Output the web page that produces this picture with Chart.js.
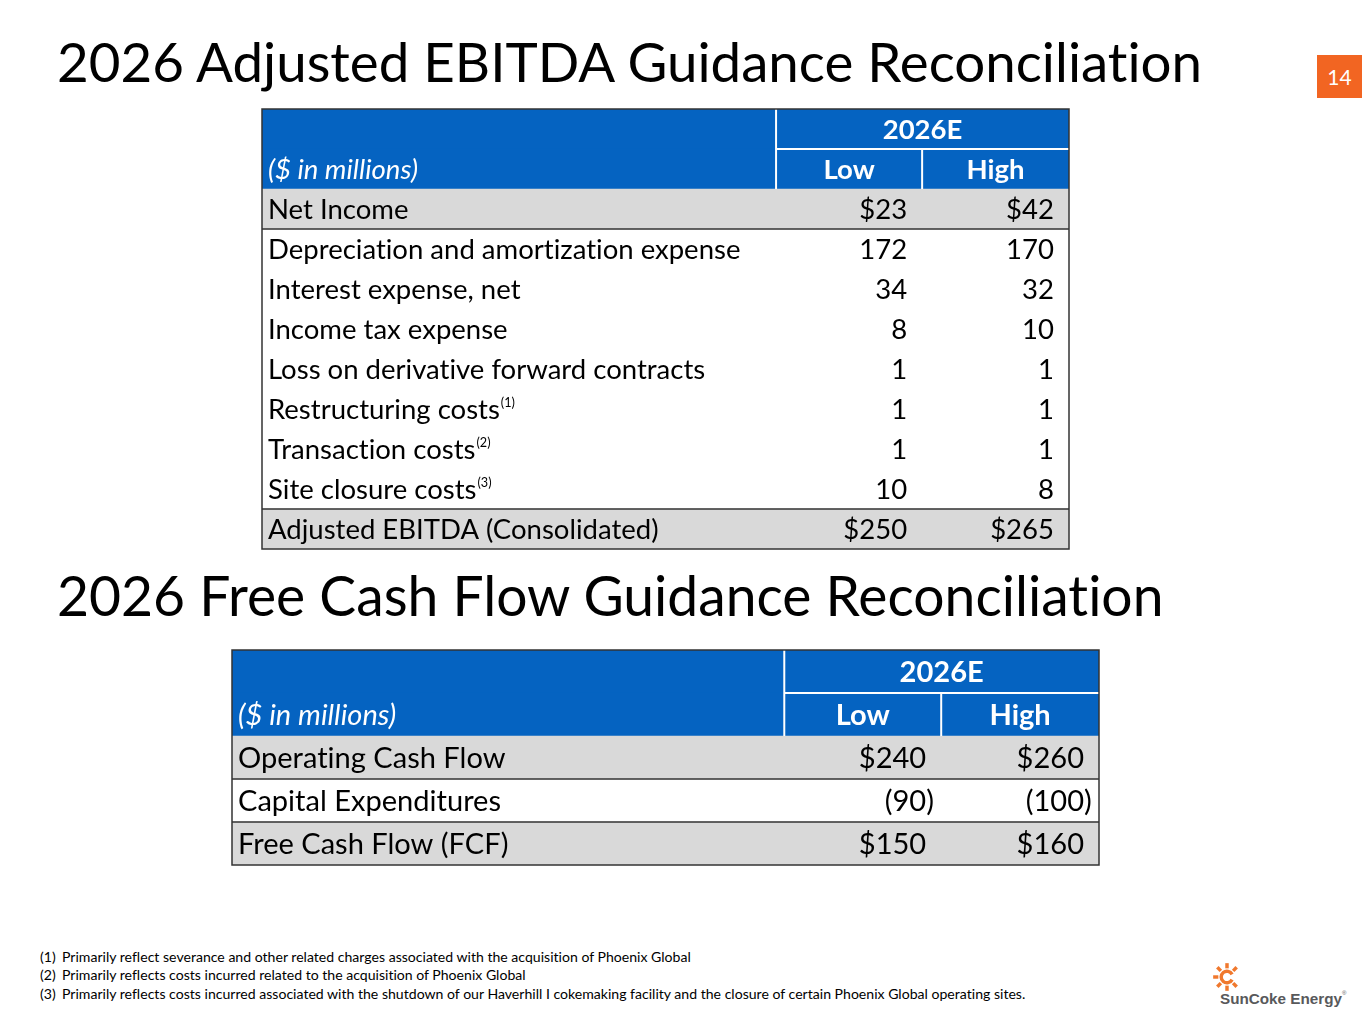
<!DOCTYPE html>
<html>
<head>
<meta charset="utf-8">
<script src="https://cdn.jsdelivr.net/npm/chart.js@4.4.1/dist/chart.umd.min.js"></script>
<style>
html, body { margin: 0; padding: 0; background: #fff; }
body { width: 1365px; height: 1024px; position: relative; overflow: hidden; font-family: Lato, "Open Sans", sans-serif;
       font-variant-ligatures: none; }
.title { position: absolute; left: 57px; white-space: nowrap; color: #000; line-height: 1; }
canvas.tbl { position: absolute; }
.page { position: absolute; left: 1317px; top: 55px; width: 45px; height: 43px; background: #f26522; color: #fff;
        font-size: 21px; display: flex; align-items: center; justify-content: center; }
.note { position: absolute; left: 40px; white-space: nowrap; color: #000; line-height: 1; }
.note span { position: absolute; left: 22px; }
.logo { position: absolute; left: 1212px; top: 962px; width: 150px; height: 55px; }
.logo .word { position: absolute; left: 8px; top: 29px; font-family: "Liberation Sans", Arial, sans-serif; font-weight: bold;
              color: #58595b; white-space: nowrap; line-height: 1; }
.logo sup { font-size: 6px; vertical-align: top; position: relative; top: -1px; font-weight: normal; }
</style>
</head>
<body>
<div class="title" id="t1">2026 Adjusted EBITDA Guidance Reconciliation</div>
<div class="title" id="t2">2026 Free Cash Flow Guidance Reconciliation</div>
<div class="page">14</div>

<canvas class="tbl" id="ebitda" width="811" height="444" style="left:260px;top:107px"></canvas>
<canvas class="tbl" id="fcf" width="871" height="219" style="left:230px;top:648px"></canvas>

<div id="notes"></div>

<div class="logo">
  <svg width="30" height="30" viewBox="-13 -13 26 26" style="position:absolute;left:0;top:0">
    <g stroke="#f0782d" stroke-width="3" stroke-linecap="butt">
      <line x1="0" y1="-12" x2="0" y2="-7.5"/>
      <line x1="0" y1="7.5" x2="0" y2="12"/>
      <line x1="-12" y1="0" x2="-7.5" y2="0"/>
      <line x1="8.4" y1="-8.4" x2="5.3" y2="-5.3"/>
      <line x1="-8.4" y1="-8.4" x2="-5.3" y2="-5.3"/>
      <line x1="-8.4" y1="8.4" x2="-5.3" y2="5.3"/>
      <line x1="8.4" y1="8.4" x2="5.3" y2="5.3"/>
    </g>
    <path d="M 4.4 -2.3 A 5 5 0 1 0 4.4 2.3" fill="none" stroke="#f0782d" stroke-width="3"/>
  </svg>
  <div class="word" id="logoword">SunCoke Energy<sup>&reg;</sup></div>
</div>

<script>
// ---- data ----
const ebitdaRows = ['Net Income', 'Depreciation and amortization expense', 'Interest expense, net',
  'Income tax expense', 'Loss on derivative forward contracts', 'Restructuring costs',
  'Transaction costs', 'Site closure costs', 'Adjusted EBITDA (Consolidated)'];
const ebitdaNotes = ['', '', '', '', '', '(1)', '(2)', '(3)', ''];
const ebitdaLow = [23, 172, 34, 8, 1, 1, 1, 10, 250];
const ebitdaHigh = [42, 170, 32, 10, 1, 1, 1, 8, 265];

const fcfRows = ['Operating Cash Flow', 'Capital Expenditures', 'Free Cash Flow (FCF)'];
const fcfNotes = ['', '', ''];
const fcfLow = [240, -90, 150];
const fcfHigh = [260, -100, 160];

const periodLabel = '2026E';
const caseLabels = ['Low', 'High'];
const unitLabel = '($ in millions)';

const footnoteMarks = ['(1)', '(2)', '(3)'];
const footnotes = [
  'Primarily reflect severance and other related charges associated with the acquisition of Phoenix Global',
  'Primarily reflects costs incurred related to the acquisition of Phoenix Global',
  'Primarily reflects costs incurred associated with the shutdown of our Haverhill I cokemaking facility and the closure of certain Phoenix Global operating sites.'
];

// ---- look ----
const FONT = 'Lato, "Open Sans", sans-serif';
const BLUE = '#0563c1';
const GREY = '#d9d9d9';
const LINE = '#333333';
const colEdges = [0.637, 0.818]; // label | low | high, as share of table width

const mctx = document.createElement('canvas').getContext('2d');
function fitSize(text, width, style, family) {
  mctx.font = (style || '') + ' 100px ' + (family || FONT);
  return 100 * width / mctx.measureText(text).width;
}

function placeTitle(id, width, baseline) {
  const el = document.getElementById(id);
  const s = fitSize(el.textContent, width);
  el.style.fontSize = s + 'px';
  el.style.top = (baseline - 0.887 * s) + 'px';
}
placeTitle('t1', 1150, 83);
placeTitle('t2', 1109, 617);

// footnotes
const noteSize = fitSize(footnotes[2], 966);
const notesBox = document.getElementById('notes');
footnotes.forEach((txt, i) => {
  const d = document.createElement('div');
  d.className = 'note';
  d.style.fontSize = noteSize + 'px';
  d.style.top = (962 + i * 18.5 - 0.887 * noteSize) + 'px';
  d.textContent = footnoteMarks[i];
  const sp = document.createElement('span');
  sp.textContent = txt;
  d.appendChild(sp);
  notesBox.appendChild(d);
});
document.getElementById('logoword').style.fontSize =
  fitSize('SunCoke Energy', 122, 'bold', '"Liberation Sans", Arial') + 'px';

function fmt(v, dollar) {
  if (v < 0) return '(' + Math.abs(v);
  return (dollar ? '$' : '') + v;
}

const tablePlugin = {
  id: 'tableText',
  afterDatasetsDraw(chart, args, o) {
    const { ctx, scales: { x, y } } = chart;
    const rowH = Math.abs(y.getPixelForValue(1) - y.getPixelForValue(0));
    const edge = i => y.getPixelForValue(i) - rowH / 2;
    const n = o.rows.length + 2;
    const xL = x.getPixelForValue(0), xA = x.getPixelForValue(colEdges[0]);
    const xB = x.getPixelForValue(colEdges[1]), xR = x.getPixelForValue(1);
    const line = (x1, y1, x2, y2) => { ctx.beginPath(); ctx.moveTo(x1, y1); ctx.lineTo(x2, y2); ctx.stroke(); };

    ctx.save();
    // header rules
    ctx.strokeStyle = '#fff';
    ctx.lineWidth = 2;
    line(xA, edge(0), xA, edge(2));
    line(xA, edge(1), xR, edge(1));
    line(xB, edge(1), xB, edge(2));
    // body separators where shading changes
    ctx.strokeStyle = LINE;
    ctx.lineWidth = 1.5;
    for (let i = 1; i < o.rows.length; i++) {
      if (o.shaded.includes(i) !== o.shaded.includes(i - 1)) line(xL, edge(i + 2), xR, edge(i + 2));
    }
    ctx.strokeRect(xL, edge(0), xR - xL, edge(n) - edge(0));

    // header text
    const s = o.fontPx;
    const dy = o.dy;
    ctx.textBaseline = 'middle';
    ctx.fillStyle = '#fff';
    ctx.font = 'bold ' + s + 'px ' + FONT;
    ctx.textAlign = 'center';
    ctx.fillText(periodLabel, (xA + xR) / 2, y.getPixelForValue(0) + dy);
    ctx.fillText(caseLabels[0], (xA + xB) / 2, y.getPixelForValue(1) + dy);
    ctx.fillText(caseLabels[1], (xB + xR) / 2, y.getPixelForValue(1) + dy);
    ctx.font = 'italic ' + s + 'px ' + FONT;
    ctx.textAlign = 'left';
    ctx.fillText(unitLabel, xL + 6, y.getPixelForValue(1) + dy);

    // body text
    ctx.fillStyle = '#000';
    const body = s + 'px ' + FONT;
    o.rows.forEach((r, i) => {
      const cy = y.getPixelForValue(i + 2) + dy;
      ctx.font = body;
      ctx.textAlign = 'left';
      ctx.fillText(r, xL + 6, cy);
      if (o.notes[i]) {
        const w = ctx.measureText(r).width;
        ctx.font = (s * 0.46) + 'px ' + FONT;
        ctx.fillText(o.notes[i], xL + 6 + w + 1, cy - s * 0.27);
        ctx.font = body;
      }
      const dollar = i === 0 || i === o.rows.length - 1;
      [[o.low[i], xB - 15], [o.high[i], xR - 15]].forEach(([v, xr]) => {
        ctx.textAlign = 'right';
        ctx.fillText(fmt(v, dollar), xr, cy);
        if (v < 0) { ctx.textAlign = 'left'; ctx.fillText(')', xr, cy); }
      });
    });
    ctx.restore();
  }
};

function makeTable(id, rows, notes, low, high, shaded, fontPx) {
  const labels = [periodLabel, unitLabel].concat(rows);
  const bars = labels.map((l, i) => (i < 2 || shaded.includes(i - 2)) ? [0, 1] : null);
  const colors = labels.map((l, i) => i < 2 ? BLUE : GREY);
  return new Chart(document.getElementById(id), {
    type: 'bar',
    data: {
      labels: labels,
      datasets: [{ data: bars, backgroundColor: colors, borderWidth: 0, barPercentage: 1, categoryPercentage: 1 }]
    },
    options: {
      indexAxis: 'y',
      responsive: false,
      animation: false,
      events: [],
      layout: { padding: 2 },
      plugins: {
        legend: { display: false },
        tooltip: { enabled: false },
        tableText: { rows: rows, notes: notes, low: low, high: high, shaded: shaded, fontPx: fontPx, dy: 1 }
      },
      scales: {
        x: { type: 'linear', min: 0, max: 1, display: false },
        y: { type: 'category', display: false, offset: true }
      }
    },
    plugins: [tablePlugin]
  });
}

makeTable('ebitda', ebitdaRows, ebitdaNotes, ebitdaLow, ebitdaHigh, [0, 8],
  fitSize('Depreciation and amortization expense', 474));
makeTable('fcf', fcfRows, fcfNotes, fcfLow, fcfHigh, [0, 2],
  fitSize('Operating Cash Flow', 268));
</script>
</body>
</html>
